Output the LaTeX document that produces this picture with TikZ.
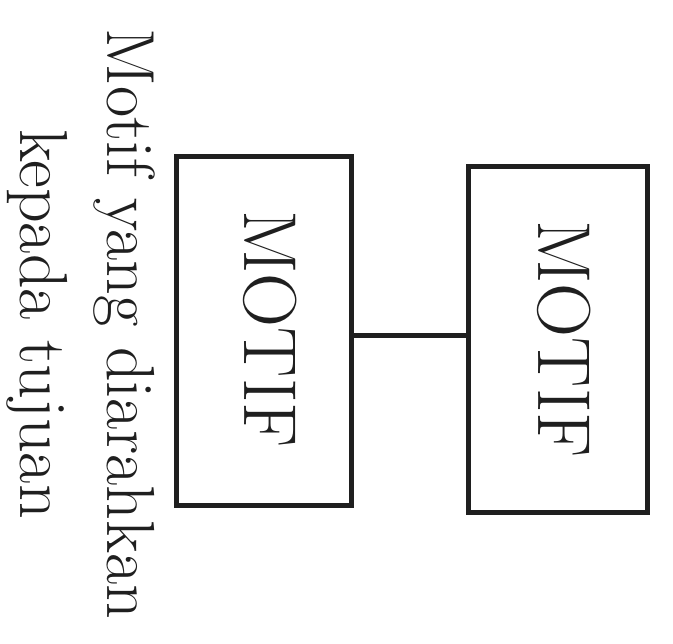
\documentclass[tikz,border=0pt]{standalone}
\begin{document}
\begin{tikzpicture}[x=1pt,y=-1pt,
  motifbox/.style={draw=black!88, line width=5pt, inner sep=0pt},
  motiftext/.style={rotate=-90, inner sep=0pt, text=black!88,
    font=\fontsize{75}{80}\selectfont},
  link/.style={draw=black!88, line width=5pt}]
\useasboundingbox (0,0) rectangle (673,644);
\node[motifbox, minimum width=175pt, minimum height=349pt] (b1) at (263.5,331.5) {};
\node[motifbox, minimum width=179pt, minimum height=346pt] (b2) at (557.5,340) {};
\node[motiftext] (t1) at (270,329) {MOTIF};
\node[motiftext] (t2) at (564,339) {MOTIF};
\path (b1.east) -- (b2.west) coordinate[midway] (m);
\draw[link] (b1.east |- m) -- (m -| b2.west);
\node[rotate=-90, align=center, inner sep=0pt, text=black!88,
  font=\fontsize{68}{87}\selectfont] (lab) at (81,324) {Motif yang diarahkan\\kepada tujuan};
\end{tikzpicture}
\end{document}
